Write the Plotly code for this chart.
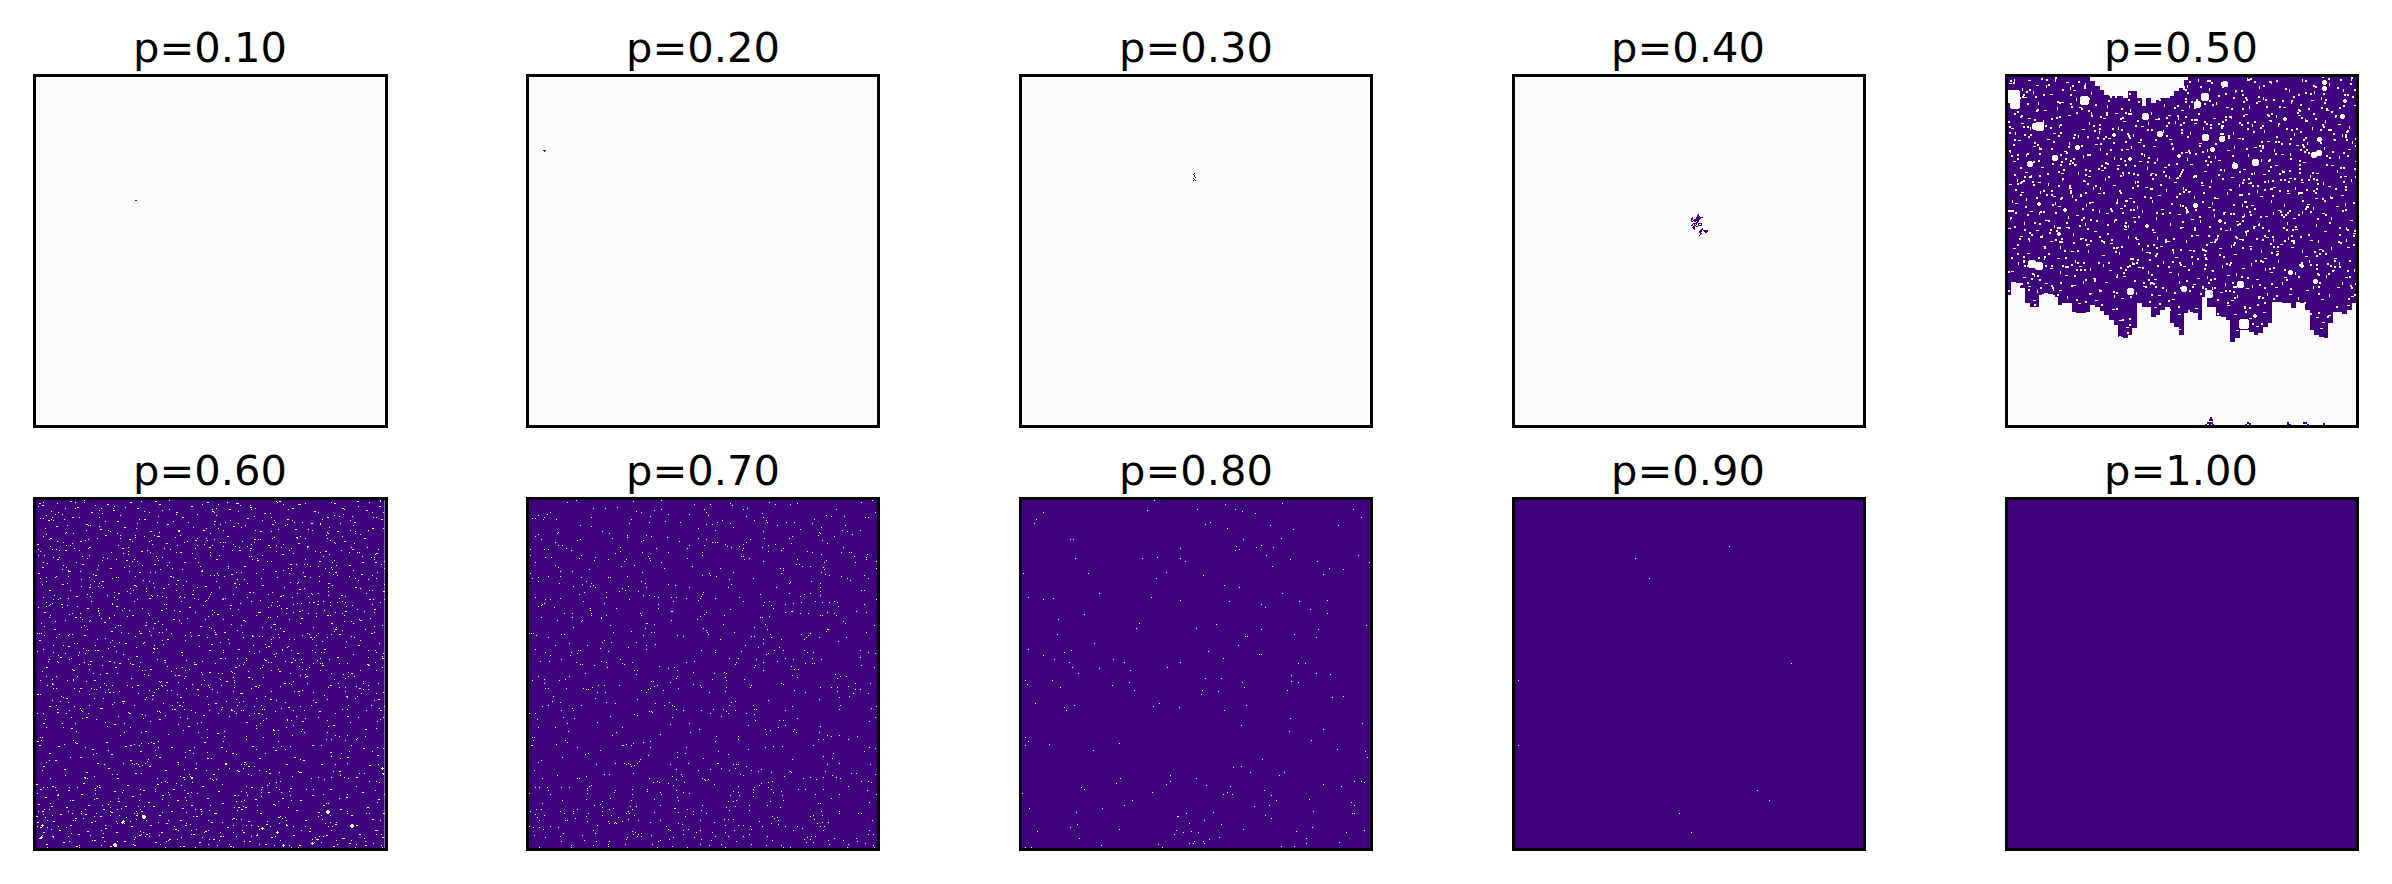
import plotly.graph_objects as go

PROBS = ["p=0.10","p=0.20","p=0.30","p=0.40","p=0.50","p=0.60","p=0.70","p=0.80","p=0.90","p=1.00"]
DARK = 1
PALE = 0
COLORSCALE = [[0, "#fcfbfd"], [1, "#3f007d"]]

c10 = [(301,376),(304,376)]
c20 = [(50,226),(53,226),(56,226),(53,229)]
c30 = [(523,294),(520,297),(523,300),(523,303),(526,306),(520,309),(523,312),(520,315),(526,315)]
c40_rows = [(195,[178]),(198,[175,178]),(201,[175,178,181]),(204,[160,172,175,178,181,184,187,190]),
 (207,[157,160,172,175,178,181,184]),(210,[157,160,166,169,172,175,178,181]),(213,[157,163,166,169,172,175,178]),
 (216,[157,160,166,169,175,178]),(219,[172,175]),(222,[163,166,169,172,178,181,184,187]),(225,[160,166,172,178,187]),
 (228,[157,160,166,169,178,181,184,187]),(231,[163,166,172,175]),(234,[160,163,166]),(237,[163,166,190]),(240,[166,187,190]),
 (243,[184,187,193,196,199,202,205]),(246,[181,184,187,196,199,202,205]),(249,[181,184,199,202]),(252,[184,187]),(255,[184]),(258,[181])]

c50_cols = [87,101,115,129,143,157,171,185,199,213,227,241,255,269,283,297,311,325,339,353,367,381,395,409,423,437,451,465,479,493,507,521,535,549,563,577,591,605,619,633,647,661,675,689,703,717,731,745,759,773,787,801,815,829,843,857,871,885,899,913,927,941,955,969,983,997,1011,1025,1039,1053,1067,1081,1095,1109,1123,1137]
c50_top = [108]*18 + [125,138,150,165,170,170,170,175,155,155,175,200,175,190,180,175,175,170,155,145,120,108] + [108]*36
c50_bottom = [765,725,730,745,790,800,800,765,760,762,772,795,788,790,815,820,820,815,795,800,812,825,840,855,890,895,885,865,790,800,800,832,825,810,800,850,860,885,820,815,820,840,770,800,800,828,830,840,905,895,870,870,875,885,880,860,850,785,785,790,790,805,785,790,810,870,885,890,895,850,815,815,822,810,790,775]
c50_bottom_bits = [(695,1135),(690,1140),(697,1140),(685,1148),(690,1148),(697,1148),(680,1155),(690,1155),(700,1155),(295,1157),(635,1157),(640,1157),(750,1157),(775,1157),(800,1155),(805,1150),(812,1152),(815,1157),(850,1157),(925,1150),(925,1155),(932,1155),(965,1157),(972,1150),(980,1150),(985,1155),(1032,1152),(1032,1157),(1062,1157),(1125,1157),(1135,1155)]
c50_holes = [(103,170,13),(108,195,10),(180,262,9),(170,262,7),(315,182,9),(160,675,8),(180,680,8),(740,135,6),(680,175,8),(655,195,7),(500,230,7),(155,375,6),(228,358,6),(770,380,6),(830,370,7),(1005,348,6),(1020,342,6),(680,295,7),(730,300,6),(700,330,5),(1020,300,5),(1035,130,5),(1035,148,5),(545,285,6),(650,497,5),(505,560,4),(935,700,5),(970,680,4),(1010,725,5),(455,755,7),(615,750,6),(690,765,8),(785,735,7),(455,360,4),(600,350,4),(1100,185,4),(795,855,10),(405,288,4),(180,495,4),(260,512,4),(240,585,4),(725,545,4),(295,325,5),(920,240,4),(1090,232,5),(830,830,4)]
c50_extra = [(92,131),(148,124),(171,137),(262,129),(283,152),(214,166),(137,173),(246,190),(301,204),(268,227),(196,213),(148,238),(97,266),(127,252),(223,283),(311,271),(373,238),(409,222),(433,247),(487,262),(529,241),(568,228),(607,214),(646,253),(703,238),(742,205),(799,226),(838,187),(871,244),(913,205),(958,229),(997,183),(1042,214),(1078,256),(1126,199),(118,304),(163,322),(205,301),(256,337),(349,316),(388,298),(442,331),(478,309),(523,322),(571,301),(619,340),(661,313),(745,334),(778,298),(826,325),(865,307),(907,346),(952,319),(1063,301),(1108,331),(103,367),(139,398),(187,385),(247,403),(286,376),(328,412),(367,394),(415,379),(481,367),(517,403),(556,385),(592,418),(634,376),(676,397),(718,364),(757,415),(793,391),(853,406),(889,379),(931,418),(973,370),(1012,401),(1057,379),(1096,412),(1129,367),(91,436),(127,460),(178,430),(223,472),(271,448),(313,427),(358,463),(403,439),(451,478),(499,445),(538,469),(586,430),(628,457),(667,439),(712,478),(751,451),(808,433),(844,472),(883,445),(925,463),(967,430),(1009,478),(1048,442),(1087,469),(1132,436),(109,493),(154,517),(199,544),(238,502),(292,529),(337,490),(382,523),(424,508),(463,535),(547,511),(598,526),(637,541),(688,505),(733,520),(772,547),(817,499),(859,532),(898,514),(943,538),(985,496),(1030,523),(1072,502),(1114,544),(88,568),(124,592),(172,574),(214,607),(262,565),(307,598),(346,577),(394,613),(436,571),(472,601),(523,580),(565,607),(607,565),(652,589),(694,610),(739,574),(781,601),(823,562),(862,595),(904,616),(949,571),(994,604),(1036,577),(1081,610),(1123,583),(103,628),(145,643),(193,622),(235,658),(277,637),(325,616),(370,649),(412,625),(457,661),(502,640),(544,622),(589,655),(631,634),(679,661),(721,628),(766,646),(811,622),(856,658),(892,637),(937,625),(979,652),(1021,631),(1066,658),(1105,625),(97,697),(133,715),(214,688),(259,709),(301,682),(343,718),(391,694),(433,712),(478,685),(526,721),(571,700),(613,682),(655,718),(697,694),(745,709),(790,688),(832,721),(874,700),(916,715),(1060,694),(1099,715),(148,742),(199,733),(241,754),(283,739),(331,763),(379,730),(427,778),(493,742),(538,769),(580,781),(643,736),(724,760),(757,784),(802,748),(838,772),(889,745),(931,766),(982,754),(1027,781),(1075,745),(1117,772),(163,784),(298,793),(349,784),(400,811),(526,805),(598,826),(649,808),(745,799),(766,826),(811,838),(853,820),(1012,835),(1030,850),(1048,829),(1105,799),(421,844),(442,865),(598,871),(772,874),(832,862),(1024,868)]
c50_more = [(106,121),(131,146),(163,157),(202,139),(229,121),(274,145),(319,133),(337,160),(625,139),(658,121),(691,148),(727,130),(769,154),(805,118),(841,142),(877,127),(931,151),(970,121),(1006,157),(1051,133),(1093,151),(1117,118),(112,199),(178,190),(235,205),(292,178),(337,220),(385,199),(454,211),(517,220),(556,196),(598,235),(631,199),(712,190),(757,232),(811,202),(853,175),(892,229),(937,187),(979,241),(1027,175),(1069,229),(1111,262),(109,280),(154,265),(193,244),(241,259),(298,289),(331,250),(361,277),(418,265),(463,286),(508,250),(553,274),(589,247),(634,280),(673,265),(727,259),(763,280),(820,256),(856,274),(898,256),(946,283),(1000,265),(1039,244),(1090,286),(1132,271),(94,334),(142,346),(181,325),(220,352),(271,310),(313,349),(364,328),(406,355),(457,322),(496,346),(535,358),(583,325),(625,358),(685,331),(709,352),(766,322),(808,346),(847,361),(886,331),(934,343),(985,310),(1036,325),(1081,352),(1120,307),(115,421),(157,409),(208,433),(250,418),(298,400),(343,445),(379,418),(433,403),(469,427),(505,385),(571,412),(613,445),(652,409),(697,424),(736,391),(781,436),(826,400),(868,424),(910,394),(949,445),(994,409),(1033,430),(1075,394),(1117,421),(100,484),(142,478),(184,457),(229,490),(280,469),(322,496),(364,445),(415,481),(475,502),(520,484),(562,451),(604,496),(646,472),(700,490),(745,460),(790,496),(835,454),(877,484),(916,496),(958,460),(1003,505),(1054,472),(1099,493),(94,535),(136,550),(181,520),(226,559),(268,532),(319,553),(361,514),(406,544),(448,559),(490,514),(532,535),(574,553),(622,517),(664,544),(706,526),(754,568),(796,526),(841,553),(883,520),(925,550),(970,517),(1012,556),(1057,535),(1102,565),(151,601),(190,589),(244,622),(283,583),(328,634),(376,607),(421,640),(448,592),(490,628),(535,595),(583,637),(622,604),(670,628),(715,595),(757,619),(802,583),(847,634),(883,601),(928,595),(970,634),(1018,604),(1057,625),(1102,601),(118,670),(166,706),(196,655),(244,697),(289,664),(334,688),(373,676),(415,706),(460,670),(508,697),(553,667),(598,703),(640,670),(685,712),(730,679),(772,703),(817,673),(859,688),(898,664),(949,700),(991,664),(1042,709),(1081,670),(1126,691),(124,733),(175,754),(223,748),(265,772),(313,727),(361,751),(406,769),(472,760),(514,730),(562,751),(601,727),(700,745),(739,733),(775,769),(820,739),(865,763),(910,730),(958,775),(1003,742),(1051,766),(1090,730),(1132,751)]

c60_extra = [(118,163),(127,171),(211,157),(232,175),(274,190),(322,166),(338,184),(391,160),(412,178),(466,157),(478,166),(529,190),(574,172),(622,160),(637,187),(688,181),(709,163),(751,175),(793,193),(838,157),(877,178),(898,166),(943,187),(1003,163),(1027,178),(1072,157),(1099,184),(1138,172),(145,214),(169,232),(217,205),(259,226),(301,241),(352,217),(373,235),(433,211),(451,247),(502,226),(547,205),(610,244),(643,217),(700,232),(742,208),(781,247),(817,226),(862,211),(886,241),(934,223),(982,205),(1012,247),(1063,220),(1117,238),(1144,211),(112,286),(151,268),(196,304),(241,277),(268,295),(316,259),(367,298),(388,271),(424,307),(472,262),(499,283),(541,310),(586,274),(628,295),(682,262),(718,304),(763,271),(805,289),(847,316),(889,265),(922,292),(976,307),(1033,277),(1057,301),(1093,268),(1129,313),(127,355),(172,331),(208,367),(247,346),(286,379),(331,358),(379,334),(418,370),(463,346),(511,382),(553,340),(604,367),(649,331),(694,376),(733,352),(772,334),(826,367),(871,346),(913,382),(958,337),(1006,370),(1048,349),(1084,376),(1126,340),(148,424),(187,406),(229,442),(268,415),(307,397),(355,433),(403,409),(448,448),(490,418),(532,394),(577,436),(616,412),(667,451),(703,403),(748,430),(787,409),(841,442),(898,421),(940,460),(985,403),(1024,439),(1066,415),(1108,451),(1150,427),(133,490),(184,466),(226,505),(262,478),(313,520),(349,472),(397,499),(436,529),(484,484),(520,511),(568,475),(601,532),(652,496),(691,469),(730,514),(778,490),(823,526),(859,478),(904,508),(952,466),(994,523),(1036,487),(1081,514),(1123,481),(118,574),(163,541),(205,592),(253,559),(292,604),(334,547),(376,583),(421,553),(460,598),(502,571),(544,610),(595,559),(634,586),(673,550),(715,601),(757,562),(805,592),(850,547),(892,613),(931,565),(973,601),(1018,556),(1075,589),(1114,553),(139,655),(181,625),(220,664),(271,637),(319,673),(358,643),(409,622),(451,661),(493,634),(535,679),(583,646),(628,670),(661,628),(706,655),(745,685),(796,634),(838,667),(874,640),(919,682),(967,649),(1012,625),(1054,673),(1102,646),(1147,628),(112,736),(157,706),(199,748),(241,718),(283,694),(328,730),(370,757),(412,709),(457,739),(499,700),(541,745),(592,721),(646,763),(679,697),(724,733),(766,712),(811,751),(853,703),(895,727),(946,760),(991,709),(1039,742),(1078,718),(1135,751),(130,823),(172,790),(214,838),(259,805),(301,778),(343,826),(388,793),(436,847),(478,811),(523,781),(565,832),(610,799),(652,853),(694,784),(739,820),(775,793),(820,844),(865,775),(907,817),(958,787),(1000,829),(1042,802),(1096,841),(1141,784)]
c60_bottom = [(112,877),(148,913),(130,952),(175,892),(166,934),(193,961),(229,883),(241,925),(259,970),(253,985),(277,901),(292,943),(319,880),(334,916),(325,958),(352,988),(376,892),(391,934),(406,973),(421,907),(448,952),(460,883),(478,925),(496,964),(514,895),(532,940),(550,985),(568,904),(586,958),(613,880),(622,928),(640,976),(664,895),(676,946),(697,913),(715,967),(733,940),(745,952),(757,892),(778,928),(808,973),(826,904),(859,946),(883,925),(901,970),(910,934),(937,889),(964,946),(991,910),(1018,967),(1042,925),(1069,985),(1090,898),(1108,949),(1132,919),(1147,973),(109,1006),(121,1021),(136,1045),(115,1066),(127,1087),(109,1102),(112,1120),(121,1135),(130,1150),(118,1168),(139,1186),(157,1012),(172,1039),(154,1072),(181,1096),(160,1117),(178,1144),(157,1163),(190,1180),(205,1024),(217,1054),(199,1075),(226,1108),(211,1129),(235,1156),(229,1192),(250,1003),(244,1036),(265,1069),(256,1096),(274,1120),(262,1147),(283,1174),(298,1015),(289,1048),(310,1081),(301,1102),(316,1138),(307,1165),(331,1193),(343,1027),(355,1057),(334,1090),(364,1120),(349,1150),(373,1177),(382,1009),(397,1042),(376,1072),(409,1099),(394,1132),(418,1159),(403,1189),(430,1024),(445,1060),(424,1087),(460,1072),(451,1129),(439,1156),(466,1180),(472,1006),(487,1039),(478,1099),(499,1123),(484,1150),(508,1171),(520,1021),(532,1054),(514,1087),(541,1114),(526,1141),(550,1192),(562,1033),(574,1069),(556,1129),(589,1102),(580,1156),(598,1180),(607,1012),(622,1048),(601,1081),(634,1120),(616,1147),(640,1171),(655,1027),(667,1063),(646,1093),(682,1135),(661,1162),(691,1192),(703,1039),(715,1075),(700,1108),(724,1081),(736,1075),(730,1150),(748,1177),(754,1015),(766,1051),(745,1117),(781,1093),(769,1159),(796,1186),(805,1030),(820,1066),(799,1126),(835,1105),(814,1165),(847,1048),(871,1018),(889,1084),(859,1129),(901,1054),(880,1159),(916,1114),(898,1189),(937,1039),(955,1090),(928,1147),(970,1069),(949,1171),(991,1021),(1006,1126),(979,1159),(1021,1081),(1000,1192),(1039,1045),(1054,1099),(1030,1168),(1069,1129),(1048,1183),(1087,1030),(1102,1075),(1078,1156),(1117,1111),(1096,1189),(1135,1051),(1150,1093),(1126,1144),(1147,1165)]
c60_holes = [(370,1117,3),(432,1107,4),(985,1090,4),(830,1150,3),(1055,1133,4),(785,1140,3),(345,1190,4),(850,1190,3),(935,1185,3),(1145,960,3),(575,990,2),(538,248,2),(125,1130,3),(122,1165,3)]

c70 = [(157,40),(184,34),(355,37),(439,34),(511,31),(538,46),(586,46),(646,43),(652,49),(763,40),(781,46),(826,46),(847,43),(985,31),(1039,40),(1072,34),(235,58),(271,58),(307,55),(364,67),(379,70),(418,64),(439,61),(568,61),(697,58),(685,61),(964,61),(1081,70),(106,70),(70,79),(97,76),(88,85),(85,91),(52,88),(61,88),(124,91),(229,85),(349,91),(406,82),(460,76),(523,76),(574,70),(580,79),(742,73),(745,85),(934,79),(949,82),(988,82),(1051,85),(1060,85),(1087,73),(694,82),(718,94),(754,94),(451,97),(496,100),(343,103),(196,109),(229,112),(403,100),(592,106),(607,100),(574,106),(622,94),(646,103),(655,115),(601,124),(550,118),(757,100),(787,109),(814,100),(838,100),(898,91),(892,103),(919,115),(991,109),(856,121),(745,127),(982,124),(997,127),(1036,124),(130,130),(127,133),(262,127),(913,130),(70,136),(61,142),(79,151),(283,133),(337,139),(394,139),(409,142),(385,154),(379,157),(187,154),(196,151),(292,148),(337,145),(457,145),(493,157),(550,148),(574,151),(592,160),(601,160),(607,160),(706,151),(748,148),(823,148),(832,142),(916,133),(910,139),(958,142),(1012,136),(922,154),(937,163),(121,160),(130,169),(142,169),(154,178),(631,166),(637,172),(523,169),(517,178),(568,169),(649,175),(673,172),(685,166),(694,160),(685,178),(682,184),(742,175),(760,169),(760,187),(781,166),(805,178),(799,184),(829,163),(985,175),(100,181),(88,181),(46,181),(169,184),(316,175),(316,187),(382,190),(424,178),(460,190),(301,193),(562,190),(562,199),(679,202),(685,202),(688,211),(703,208),(877,187),(892,190),(919,196),(1009,190),(1003,190),(979,190),(1057,196),(1054,205),(1018,202),(1054,211),(46,199),(91,205),(109,205),(199,199),(193,208),(241,205),(238,214),(400,202),(403,208),(406,214),(280,211),(334,211),(328,217),(517,208),(439,220),(745,217),(847,211),(844,226),(853,226),(862,232),(934,214),(928,220),(925,235),(886,232),(1021,220),(1084,217),(61,220),(121,229),(130,235),(319,232),(358,229),(448,238),(532,232),(616,238),(928,241),(46,253),(100,262),(70,265),(52,268),(70,277),(136,247),(172,247),(223,241),(136,262),(199,265),(280,265),(286,265),(337,262),(382,250),(379,277),(562,259),(583,253),(604,262),(655,250),(586,259),(715,268),(805,244),(796,238),(805,238),(799,253),(919,250),(931,256),(943,259),(979,262),(997,268),(1048,259),(1006,274),(1060,268),(1084,238),(214,277),(133,283),(175,292),(229,283),(226,292),(235,289),(241,295),(202,286),(391,283),(340,292),(322,298),(331,304),(394,295),(460,286),(481,289),(523,295),(640,295),(649,286),(643,271),(784,295),(826,280),(823,283),(916,283),(916,295),(889,277),(193,316),(208,310),(274,310),(274,325),(313,307),(370,307),(385,319),(403,319),(418,322),(430,325),(469,325),(484,325),(565,310),(562,316),(559,322),(556,328),(550,334),(514,328),(601,328),(673,325),(736,316),(823,313),(856,322),(868,316),(886,313),(916,307),(916,319),(1039,304),(1048,304),(1084,331),(61,325),(91,331),(106,331),(136,328),(343,331),(205,337),(88,343),(82,346),(79,349),(70,352),(118,355),(268,343),(304,358),(430,346),(430,358),(475,337),(685,337),(748,340),(763,337),(769,349),(745,349),(775,358),(811,346),(835,343),(859,340),(901,337),(922,340),(958,337),(967,340),(970,352),(943,340),(1048,346),(226,358),(226,364),(229,373),(229,379),(646,361),(469,367),(472,367),(829,367),(832,367),(574,370),(568,376),(556,382),(547,391),(937,370),(958,373),(964,379),(922,379),(916,379),(856,373),(880,373),(1054,370),(1024,367),(148,373),(172,373),(79,385),(172,385),(259,385),(259,388),(274,379),(376,373),(379,379),(736,385),(742,385),(763,382),(811,370),(628,379),(199,397),(202,394),(127,394),(469,394),(985,397),(991,403),(394,403),(397,403),(418,406),(625,406),(1078,409),(286,409),(718,415),(175,415),(751,406),(391,418),(565,418),(574,424),(577,430),(580,436),(937,421),(934,427),(940,421),(757,421),(766,436),(409,430),(418,430),(295,430),(349,427),(43,433),(49,433),(55,433),(64,439),(139,436),(148,436),(385,439),(487,439),(505,442),(658,430),(709,442),(718,442),(745,451),(769,445),(859,436),(886,433),(880,439),(874,445),(868,451),(913,445),(994,445),(1054,430),(100,445),(268,454),(262,460),(616,451),(799,451),(970,457),(121,469),(163,463),(217,469),(364,460),(421,466),(394,469),(394,481),(256,478),(289,460),(691,469),(745,463),(730,475),(61,481),(196,484),(190,484),(187,493),(169,490),(340,475),(280,487),(559,484),(601,490),(601,484),(679,487),(778,484),(760,493),(754,496),(805,484),(793,475),(868,484),(877,490),(895,490),(892,508),(1036,484),(1060,490),(1081,493),(91,490),(106,499),(166,499),(139,511),(76,517),(103,517),(184,520),(259,517),(274,520),(277,535),(316,511),(322,523),(328,526),(352,520),(196,526),(202,526),(238,529),(514,520),(538,517),(643,508),(670,508),(661,526),(664,520),(724,511),(721,529),(745,520),(787,517),(811,508),(835,511),(871,523),(892,523),(898,523),(919,511),(1036,505),(1078,535),(1039,529),(460,538),(478,535),(487,544),(211,553),(358,544),(367,544),(364,556),(433,532),(535,550),(598,553),(628,550),(634,553),(745,544),(718,535),(829,532),(838,541),(850,541),(961,556),(967,568),(976,562),(994,562),(832,559),(847,565),(70,562),(52,574),(88,571),(163,562),(151,571),(133,574),(487,562),(484,568),(631,565),(634,574),(592,571),(688,571),(410,577),(415,577),(466,580),(535,586),(556,589),(559,595),(634,595),(709,589),(706,595),(799,583),(805,586),(1021,583),(1066,583),(949,595),(967,595),(1000,592),(88,583),(91,598),(100,598),(154,598),(205,598),(250,589),(232,595),(268,589),(313,589),(427,589),(418,592),(406,598),(214,601),(220,601),(247,610),(271,610),(379,604),(400,601),(394,610),(490,598),(445,604),(631,607),(583,610),(838,604),(871,610),(916,595),(1021,601),(1036,601),(1015,613),(967,607),(1060,613),(1003,622),(973,625),(241,628),(115,622),(367,631),(112,637),(82,652),(100,649),(136,640),(199,649),(274,640),(301,643),(421,643),(463,640),(472,649),(448,649),(478,652),(484,661),(649,640),(661,637),(643,649),(760,634),(832,652),(913,631),(976,649),(1084,652),(715,649),(718,661),(724,661),(139,664),(172,658),(175,664),(61,673),(43,673),(403,667),(409,667),(358,676),(367,679),(412,670),(505,664),(559,664),(595,661),(625,661),(634,667),(640,673),(661,664),(694,673),(619,682),(586,673),(811,664),(973,661),(1069,658),(145,685),(178,688),(67,691),(286,682),(472,685),(718,676),(847,688),(1081,685),(721,694),(793,694),(805,694),(247,700),(157,703),(523,703),(700,709),(790,715),(811,709),(916,712),(1063,697),(70,715),(121,715),(322,715),(466,706),(553,721),(751,721),(766,724),(838,721),(835,727),(844,730),(913,730),(160,727),(526,730),(436,736),(304,730),(292,739),(604,742),(670,742),(754,736),(910,751),(937,739),(949,742),(973,739),(925,751),(1000,751),(1027,742),(52,745),(58,745),(55,754),(151,754),(157,760),(406,757),(385,760),(355,763),(334,766),(325,769),(349,769),(601,757),(670,751),(49,769),(52,769),(124,766),(187,775),(406,775),(322,769),(514,775),(895,769),(1063,775),(700,781),(751,775),(775,772),(802,772),(640,796),(610,787),(256,784),(487,790),(511,793),(400,799),(220,793),(211,796),(1081,778),(955,793),(1048,787),(142,805),(376,811),(373,817),(367,823),(358,829),(346,826),(340,823),(565,808),(487,805),(607,823),(610,823),(79,814),(70,820),(244,826),(301,823),(328,823),(334,826),(349,832),(466,826),(520,823),(586,841),(619,838),(655,826),(664,826),(670,826),(661,838),(694,832),(709,844),(739,841),(730,847),(832,811),(952,808),(925,802),(937,826),(973,823),(1066,826),(58,844),(484,841),(550,844),(643,844),(826,847),(829,850),(127,859),(268,856),(283,856),(355,853),(499,856),(676,856),(685,859),(1009,853),(1024,853),(1081,856),(952,859),(931,847),(769,850),(472,862),(502,862),(808,862),(187,868),(193,868),(214,862),(82,868),(403,868),(484,871),(562,868),(580,871),(865,868),(886,865),(925,865),(964,865),(976,868),(1087,868),(415,880),(427,877),(433,880),(460,883),(508,880),(568,871),(571,874),(904,871),(739,883),(760,880),(772,877),(1039,877),(1060,877),(1069,880),(229,889),(223,892),(217,898),(475,889),(598,886),(670,892),(718,895),(760,895),(769,901),(733,889),(61,895),(73,895),(97,895),(100,904),(139,895),(163,895),(352,901),(397,901),(397,907),(352,916),(298,910),(301,904),(217,904),(217,913),(43,913),(106,916),(484,904),(436,910),(439,916),(505,910),(523,913),(655,907),(670,910),(673,919),(646,919),(715,901),(715,910),(715,922),(799,907),(775,910),(802,919),(850,901),(871,901),(901,916),(925,901),(973,916),(1000,892),(1084,916),(1057,904),(214,931),(487,925),(490,934),(286,928),(262,937),(256,946),(349,934),(142,934),(82,943),(418,931),(664,934),(640,937),(655,937),(805,934),(766,937),(910,943),(916,943),(949,928),(1063,940),(238,949),(346,952),(364,952),(295,958),(283,961),(262,955),(262,967),(352,961),(478,958),(481,958),(436,949),(490,970),(562,949),(703,949),(757,949),(661,952),(703,964),(796,955),(1030,973),(1039,973),(973,967),(973,973),(919,967),(46,967),(64,961),(79,961),(187,961),(175,967),(175,973),(136,967),(148,973),(220,973),(334,973),(343,973),(340,967),(418,970),(517,961),(535,967),(559,964),(643,964),(634,955),(895,979),(886,982),(922,979),(772,982),(787,985),(790,994),(778,988),(88,979),(67,985),(73,994),(61,976),(181,988),(214,982),(262,979),(289,979),(310,985),(358,979),(511,982),(535,976),(574,973),(157,994),(217,997),(151,994),(301,1000),(280,997),(283,1003),(298,1003),(304,1003),(247,1009),(340,991),(322,997),(370,994),(406,1000),(436,994),(454,1012),(490,1003),(502,1006),(556,994),(598,1000),(628,991),(640,991),(655,991),(631,1009),(670,1009),(685,1009),(706,1012),(733,997),(742,1012),(769,1003),(790,1006),(811,1012),(847,1012),(862,1018),(898,991),(907,1003),(922,1000),(940,1000),(916,1012),(928,1012),(1072,994),(43,1012),(55,1015),(73,1015),(85,1021),(106,1012),(130,1015),(235,1024),(145,1033),(352,1027),(361,1030),(370,1036),(355,1036),(379,1033),(367,1042),(379,1042),(460,1021),(466,1024),(505,1024),(520,1021),(556,1024),(544,1030),(592,1030),(631,1030),(658,1024),(709,1021),(835,1024),(925,1024),(1063,1024),(1075,1036),(58,1039),(91,1045),(136,1042),(202,1039),(241,1033),(337,1045),(409,1039),(436,1054),(505,1036),(475,1045),(538,1045),(601,1042),(640,1042),(685,1042),(703,1036),(757,1042),(877,1045),(889,1042),(901,1042),(958,1048),(1024,1048),(1060,1036),(139,1057),(208,1054),(244,1057),(283,1057),(334,1051),(430,1057),(463,1051),(559,1051),(589,1054),(664,1057),(772,1054),(868,1051),(886,1051),(940,1054),(985,1054),(1027,1057),(1051,1063),(169,1069),(235,1069),(280,1066),(331,1066),(412,1066),(472,1072),(556,1066),(619,1066),(709,1066),(754,1069),(799,1069),(874,1060),(895,1060),(1000,1066),(1075,1069),(49,1078),(61,1078),(73,1075),(169,1075),(265,1078),(280,1072),(427,1075),(496,1078),(517,1075),(583,1069),(631,1075),(805,1075),(826,1075),(943,1066),(997,1075),(1078,1075)]

c80 = [(433,34),(646,46),(817,43),(100,70),(412,64),(562,61),(676,61),(697,67),(736,73),(1030,61),(79,91),(73,103),(601,100),(586,106),(1054,85),(781,109),(985,109),(652,118),(850,121),(181,151),(190,151),(700,151),(814,148),(511,178),(679,172),(676,184),(688,181),(739,175),(754,169),(790,175),(769,199),(1045,199),(196,208),(397,208),(442,205),(511,208),(526,217),(841,211),(922,217),(1078,220),(787,232),(958,238),(1000,241),(40,253),(235,253),(469,250),(580,259),(940,256),(439,268),(643,289),(688,295),(268,313),(817,313),(55,325),(100,331),(130,328),(424,325),(511,334),(658,337),(868,337),(952,334),(754,346),(766,355),(901,361),(223,376),(952,373),(145,391),(388,403),(379,418),(559,418),(619,406),(754,421),(925,421),(1069,409),(142,436),(706,442),(712,442),(853,436),(919,445),(253,463),(685,469),(55,481),(184,484),(163,490),(595,487),(100,499),(748,496),(754,496),(640,508),(133,511),(310,511),(178,520),(343,520),(511,520),(865,523),(886,523),(187,535),(268,538),(472,535),(361,544),(205,553),(919,553),(961,556),(844,559),(586,568),(634,568),(46,574),(127,574),(52,586),(358,580),(697,580),(844,577),(865,580),(307,589),(151,595),(703,595),(373,604),(577,604),(625,607),(832,604),(574,616),(967,625),(1000,622),(76,643),(448,643),(193,649),(430,652),(163,655),(508,655),(709,649),(169,664),(643,664),(841,688),(1057,703),(694,709),(940,721),(838,727),(46,745),(55,757),(904,754),(46,769),(118,766),(328,763),(250,784),(982,781),(1066,787),(1072,805),(757,811),(670,835),(694,832),(721,850),(823,850),(808,859),(481,859),(331,868),(559,868),(481,877),(319,883),(469,886),(589,889),(940,886),(994,892),(1033,877),(1054,877),(1063,880),(661,892),(214,895),(223,901),(763,904),(652,910),(640,916),(667,916),(427,910),(38,913),(784,919),(367,934),(799,934),(898,931),(1024,940),(343,949),(733,952),(778,949),(1033,949),(58,958),(277,958),(199,970),(529,973),(610,970),(910,967),(1027,973),(1033,973),(766,979),(502,982),(505,982),(784,988),(583,994),(538,1003),(202,1006),(634,1006),(181,1015),(907,1015),(328,1021),(700,1021),(499,1024),(82,1027),(520,1030),(544,1027),(565,1030),(859,1027),(1009,1030),(1063,1024),(493,1036),(628,1045),(208,1048),(889,1048),(598,1051),(553,1057),(580,1057),(538,1063),(550,1063),(583,1063),(889,1063),(988,1060),(274,1069),(445,1066),(46,1075),(64,1075),(457,1075),(493,1078),(814,1072),(853,1072),(1063,1078)]

c90 = [(673,172),(391,208),(433,268),(859,523),(40,574),(40,769),(757,904),(793,934),(523,973),(559,1030)]

FIG_W, FIG_H = 2392, 884
LEFTS = [36.0, 528.8, 1021.7, 1514.5, 2007.5]
SIDE = 348.6
TOPS = [76.7, 499.7]
CELLS = 353
VIEW0 = 1.35
ORIGIN = [(0,0),(0,0),(0,0),(-379,-223.5),(80.5,107),(104,148),(37,26),(30,26),(25,26),(0,0)]


def new_grid(fill):
    return [[fill] * CELLS for _ in range(CELLS)]


def stamp(grid, pts, origin, value, w=1, h=1):
    ox, oy = origin
    for x, y in pts:
        c0, r0 = int((x - ox) / 3), int((y - oy) / 3)
        for r in range(r0, r0 + h):
            for c in range(c0, c0 + w):
                if 0 <= r < CELLS and 0 <= c < CELLS:
                    grid[r][c] = value


def blobs(grid, items, origin):
    ox, oy = origin
    for x, y, s in items:
        n = int(s)
        c0, r0 = int((x - ox) / 3) - n // 2, int((y - oy) / 3) - n // 2
        for r in range(n):
            for c in range(n):
                corner = (r in (0, n - 1)) and (c in (0, n - 1)) and n >= 3
                if not corner and 0 <= r0 + r < CELLS and 0 <= c0 + c < CELLS:
                    grid[r0 + r][c0 + c] = PALE


def moved(pts, src, dst):
    return [(x - src[0] + dst[0], y - src[1] + dst[1]) for x, y in pts]


panel_grids = {}
g = new_grid(PALE); stamp(g, c10, ORIGIN[0], DARK); panel_grids[0] = g
g = new_grid(PALE); stamp(g, c20, ORIGIN[1], DARK); panel_grids[1] = g
g = new_grid(PALE); stamp(g, c30, ORIGIN[2], DARK); panel_grids[2] = g
g = new_grid(PALE); stamp(g, [(x, y) for y, xs in c40_rows for x in xs], ORIGIN[3], DARK); panel_grids[3] = g

g = new_grid(PALE)
o5 = ORIGIN[4]
for cx, a, b in zip(c50_cols, c50_top, c50_bottom):
    for r in range(CELLS):
        y = o5[1] + 3 * r
        if a <= y <= b:
            for c in range(CELLS):
                x = o5[0] + 3 * c
                if cx - 7 <= x < cx + 7:
                    g[r][c] = DARK
stamp(g, moved(c70, ORIGIN[6], o5), o5, PALE, 2, 2)
stamp(g, moved(c60_extra, ORIGIN[5], o5), o5, PALE, 2, 2)
stamp(g, c50_extra, o5, PALE, 3, 1)
stamp(g, c50_more, o5, PALE, 1, 3)
blobs(g, c50_holes, o5)
stamp(g, c50_bottom_bits, o5, DARK, 2, 2)
panel_grids[4] = g

g = new_grid(DARK)
o6 = ORIGIN[5]
stamp(g, moved(c70, ORIGIN[6], o6), o6, PALE)
stamp(g, c60_extra, o6, PALE, 2, 1)
stamp(g, moved(c50_more, o5, o6), o6, PALE)
stamp(g, moved(c50_extra, o5, o6), o6, PALE)
stamp(g, c60_bottom, o6, PALE, 2, 1)
blobs(g, c60_holes, o6)
panel_grids[5] = g

g = new_grid(DARK); stamp(g, c70, ORIGIN[6], PALE); panel_grids[6] = g
g = new_grid(DARK); stamp(g, c80, ORIGIN[7], PALE); panel_grids[7] = g
g = new_grid(DARK); stamp(g, c90, ORIGIN[8], PALE); panel_grids[8] = g
panel_grids[9] = new_grid(DARK)

fig = go.Figure()
layout = {}
annotations = []
for i, label in enumerate(PROBS):
    row, col = i // 5, i % 5
    l, t = LEFTS[col], TOPS[row]
    suf = "" if i == 0 else str(i + 1)
    layout["xaxis" + suf] = dict(domain=[l / FIG_W, (l + SIDE) / FIG_W], range=[VIEW0, VIEW0 + SIDE], anchor="y" + suf,
                                 showticklabels=False, ticks="", showgrid=False, zeroline=False,
                                 showline=True, mirror=True, linecolor="black", linewidth=2.7)
    layout["yaxis" + suf] = dict(domain=[1 - (t + SIDE) / FIG_H, 1 - t / FIG_H], range=[VIEW0 + SIDE, VIEW0], anchor="x" + suf,
                                 showticklabels=False, ticks="", showgrid=False, zeroline=False,
                                 showline=True, mirror=True, linecolor="black", linewidth=2.7)
    annotations.append(dict(text=label, x=(l + SIDE / 2 - 0.5) / FIG_W, y=1 - (t - 29) / FIG_H, xref="paper", yref="paper",
                            xanchor="center", yanchor="middle", showarrow=False,
                            font=dict(family="DejaVu Sans", size=41.6, color="black")))
    fig.add_trace(go.Heatmap(z=panel_grids[i], x0=0.5, dx=1, y0=0.5, dy=1, zmin=0, zmax=1, colorscale=COLORSCALE,
                             showscale=False, hoverinfo="skip", xaxis="x" + suf, yaxis="y" + suf))

fig.update_layout(width=FIG_W, height=FIG_H, autosize=False, margin=dict(l=0, r=0, t=0, b=0), paper_bgcolor="white",
                  plot_bgcolor="#fcfbfd", annotations=annotations, **layout)
fig.write_html("out.html", config=dict(displayModeBar=False), post_script="document.body.style.margin='0';")
